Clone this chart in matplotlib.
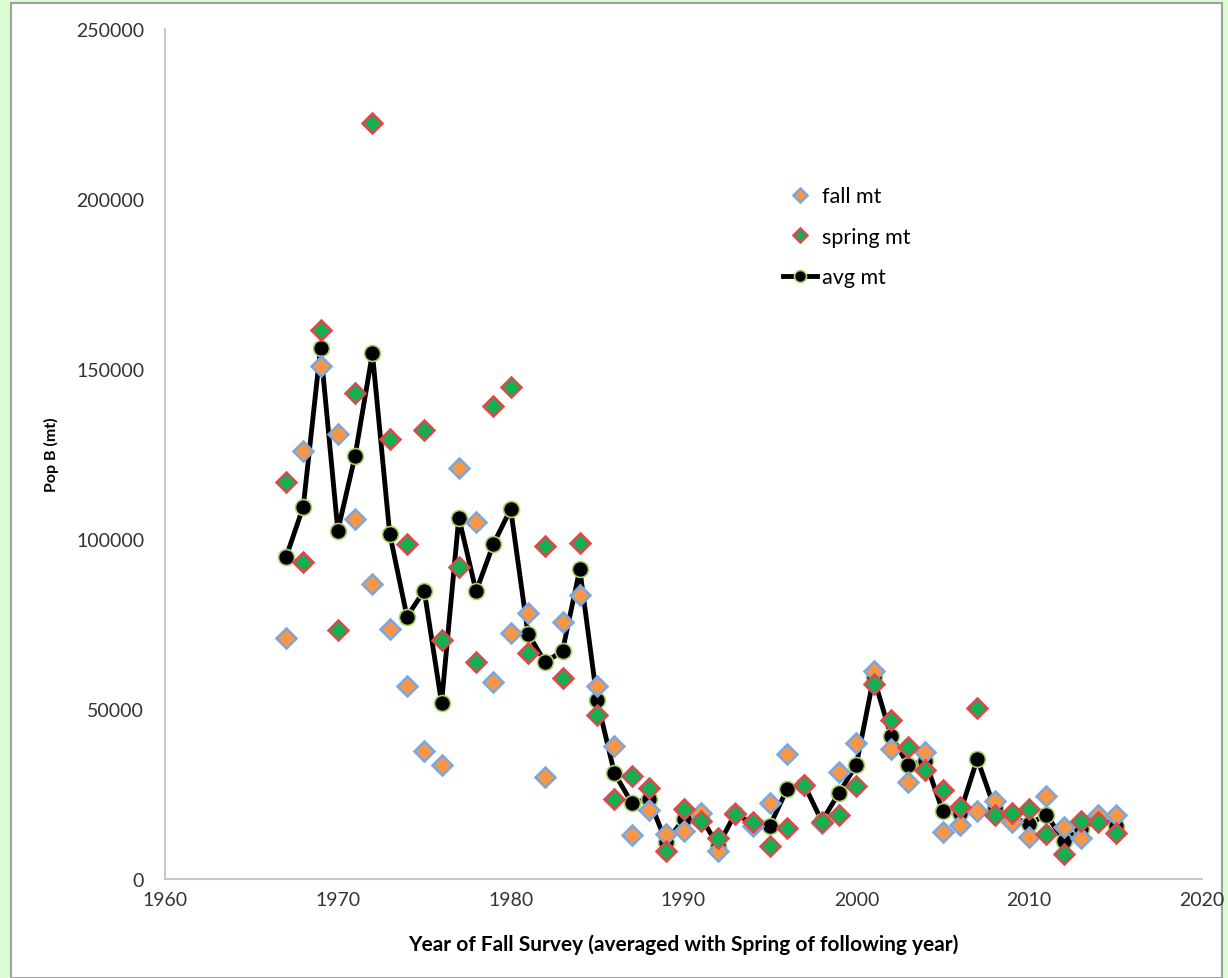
import matplotlib.pyplot as plt
from matplotlib.patches import Rectangle

years = list(range(1967, 2016))

fall_mt = [71000, 126000, 151000, 131000, 106000, 86800, 73500, 56700, 37600, 33500,
           120800, 105000, 57800, 72500, 78100, 30000, 75500, 83500, 56900, 39000,
           12900, 20300, 13200, 14200, 19400, 8100, 19500, 15700, 22400, 36800,
           27600, 16500, 31600, 40000, 61300, 38200, 28400, 37300, 13900, 16000,
           20100, 23000, 16900, 12500, 24500, 15200, 12200, 18900, 18900]

spring_mt = [116900, 93100, 161500, 73200, 143000, 222400, 129400, 98500, 132000, 70200,
             91700, 63700, 139200, 144800, 66500, 98000, 59200, 98900, 48300, 23500,
             30400, 26900, 8300, 20600, 17200, 12200, 19100, 16700, 9800, 15000,
             27600, 16800, 18900, 27400, 57400, 46900, 38700, 32100, 26300, 21100,
             50300, 18900, 19400, 20600, 13200, 7500, 17200, 16700, 13400]

avg_mt = [94600, 109500, 156200, 102500, 124500, 154600, 101600, 77200, 84800, 51800,
          106300, 84600, 98500, 108800, 72200, 63700, 67100, 91100, 52600, 31200,
          22400, 23500, 10800, 17600, 18200, 9800, 19300, 16200, 15700, 26500,
          27600, 17000, 25300, 33600, 59300, 42200, 33600, 34600, 19900, 19400,
          35300, 20800, 18200, 16200, 18900, 11300, 14700, 17800, 15700]

W, H = 1228, 979
fig = plt.figure(figsize=(W / 100, H / 100), dpi=100)
fig.patch.set_facecolor('#dcfcd4')
# white chart panel with a grey rim, kept behind the axes
panel = Rectangle((11 / W, 0), (1222 - 11) / W, (H - 4) / H,
                  transform=fig.transFigure, facecolor='white',
                  edgecolor='#a0a0a0', linewidth=1.5, zorder=-10)
fig.add_artist(panel)

ax = fig.add_axes([165 / W, (H - 880) / H, (1202 - 165) / W, (880 - 30) / H])
ax.set_facecolor('none')
ax.set_zorder(1)

font = 'Lato'

ax.plot(years, avg_mt, color='black', linewidth=3.5, marker='o', markersize=11.5,
        markerfacecolor='black', markeredgecolor='#a8d36a', markeredgewidth=1.2,
        label='avg mt', zorder=2)
ax.plot(years, fall_mt, linestyle='none', marker='D', markersize=10,
        markerfacecolor='#f79646', markeredgecolor='#7aa7de', markeredgewidth=1.8,
        label='fall mt', zorder=3)
ax.plot(years, spring_mt, linestyle='none', marker='D', markersize=10,
        markerfacecolor='#12b050', markeredgecolor='#e0474c', markeredgewidth=1.8,
        label='spring mt', zorder=4)

ax.set_xlim(1960, 2020)
ax.set_ylim(0, 250000)
ax.set_xticks(range(1960, 2021, 10))
ax.set_yticks(range(0, 250001, 50000))

for side in ['top', 'right']:
    ax.spines[side].set_visible(False)
for side in ['left', 'bottom']:
    ax.spines[side].set_color('#c8c8c8')
    ax.spines[side].set_linewidth(1.5)

ax.tick_params(axis='both', length=0, labelsize=14, labelcolor='#333333')
ax.tick_params(axis='y', pad=15)
ax.tick_params(axis='x', pad=9)
for lbl in ax.get_xticklabels() + ax.get_yticklabels():
    lbl.set_family(font)

ax.set_xlabel('Year of Fall Survey (averaged with Spring of following year)',
              fontsize=15, fontweight='bold', family=font, labelpad=18)
ax.set_ylabel('Pop B (mt)', fontsize=11.5, fontweight='bold', family=font, labelpad=12)

handles, labels = ax.get_legend_handles_labels()
order = [1, 2, 0]
leg = ax.legend([handles[i] for i in order], [labels[i] for i in order],
                loc='upper left', bbox_to_anchor=(0.596, 0.815), frameon=False,
                borderpad=0, borderaxespad=0,
                prop={'family': font, 'size': 15.5}, markerscale=0.75,
                handlelength=1.6, labelspacing=0.95, handletextpad=0.2)

fig.savefig('out.png', dpi=100, facecolor=fig.get_facecolor())
